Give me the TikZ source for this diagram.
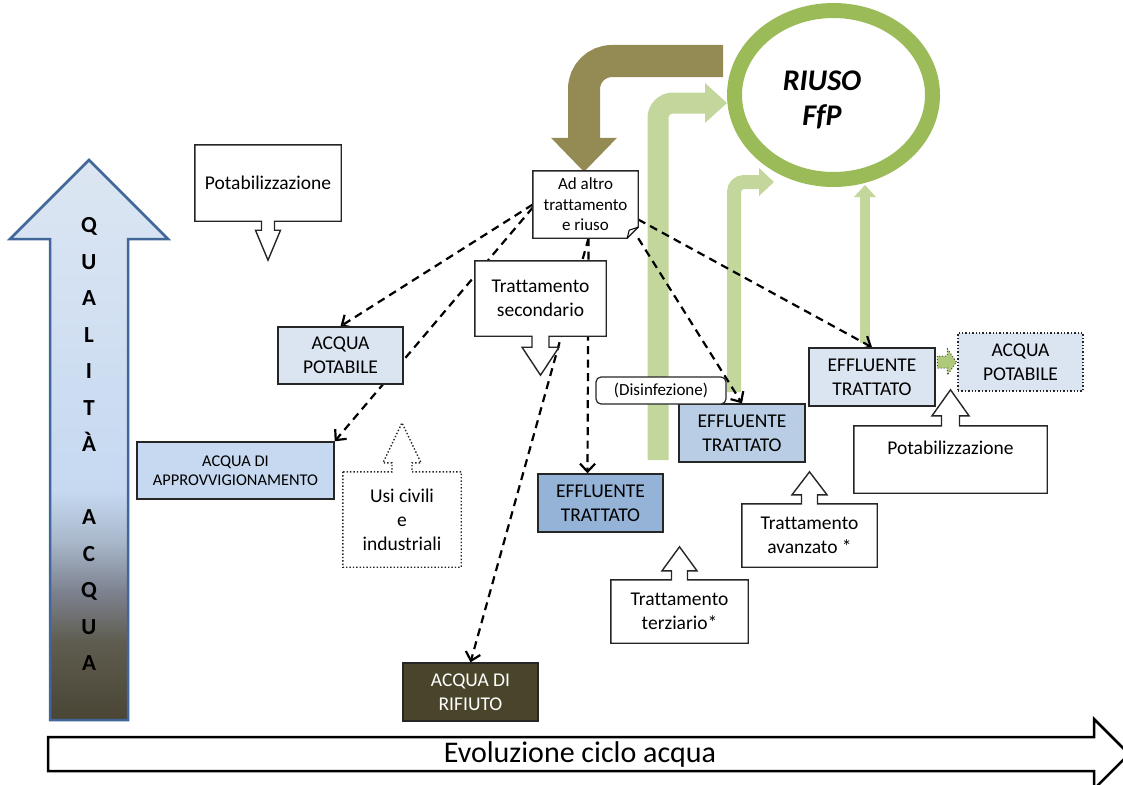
\documentclass[tikz,border=0pt]{standalone}
\usepackage{fontspec}
\setmainfont{Carlito}[Ligatures=NoCommon]
\usetikzlibrary{positioning,arrows.meta,calc,shapes.geometric,backgrounds}

\definecolor{palebox}{HTML}{DBE5F1}
\definecolor{approvbox}{HTML}{C6D9F1}
\definecolor{effbox}{HTML}{B9CDE5}
\definecolor{effdark}{HTML}{95B3D7}
\definecolor{wastebox}{HTML}{4A452A}
\definecolor{reuseflow}{HTML}{948A54}
\definecolor{ringgreen}{HTML}{9BBB59}
\definecolor{paleflow}{HTML}{C3D69B}
\definecolor{qborder}{HTML}{41679A}
\definecolor{qa}{HTML}{4A4535}
\definecolor{qb}{HTML}{5F5D50}
\definecolor{qc}{HTML}{7D8290}
\definecolor{qd}{HTML}{A9B8CB}
\definecolor{qe}{HTML}{C6D9F1}
\definecolor{qf}{HTML}{DCE6F2}
\pgfdeclareverticalshading{quality}{100bp}{color(0bp)=(qa); color(25bp)=(qa); color(32bp)=(qb); color(36.5bp)=(qc); color(41bp)=(qd); color(45.5bp)=(qe); color(75bp)=(qf); color(100bp)=(qf)}

% box with a pointer below / above it
\newcommand{\calloutdown}[6][]{%
  \draw[callout,#1] (#2.south west) -- (#2.north west) -- (#2.north east) -- (#2.south east)
    -- ($(#2.south)+(#3,0)$) -- ++(0,#5) -- ++(#4-#3,0) -- ++(-#4,#6) -- ++(-#4,-#6) -- ++(#4-#3,0) -- ++(0,-#5) -- cycle;}
\newcommand{\calloutup}[6][]{%
  \draw[callout,#1] (#2.north west) -- (#2.south west) -- (#2.south east) -- (#2.north east)
    -- ($(#2.north)+(#3,0)$) -- ++(0,-#5) -- ++(#4-#3,0) -- ++(-#4,-#6) -- ++(-#4,#6) -- ++(#4-#3,0) -- ++(0,#5) -- cycle;}

\begin{document}
\begin{tikzpicture}[x=1pt,y=-1pt,
    box/.style={draw=black!85, line width=1.4pt, inner sep=0pt, align=center, font=\fontsize{19.5}{24}\selectfont},
    bare/.style={inner sep=0pt, align=center, font=\fontsize{19.5}{24}\selectfont},
    callout/.style={draw=black!85, fill=white, line width=1.4pt},
    flow/.style={line width=2.2pt, dash pattern=on 8pt off 5.5pt, -{Straight Barb[length=8pt,width=15pt]}}]
    \useasboundingbox (0,0) rectangle (1123,784);
    \clip (0,0) rectangle (1123,784);
    %Quality axis
    \shadedraw[shading=quality, draw=qborder, line width=2.5pt] (50,720) -- (50,239) -- (10,239) -- (89,160) -- (168,239) -- (128,239) -- (128,720) -- cycle;
    \node[bare, font=\fontsize{23}{36.5}\selectfont\bfseries] (qualita) at (89,444) {Q\\U\\A\\L\\I\\T\\À\\\mbox{}\\A\\C\\Q\\U\\A};
    %Water cycle axis
    \draw[line width=2.5pt] (48,737) -- (1094,737) -- (1094,719) -- (1129,754) -- (1094,789) -- (1094,771) -- (48,771) -- cycle;
    \node[bare, font=\fontsize{30}{36}\selectfont] (evoluzione) at (580,754) {Evoluzione ciclo acqua};
    %Reuse
    \node[ellipse, draw=ringgreen, line width=15pt, minimum width=198, minimum height=169, inner sep=0pt] (riuso) at (833.5,95) {};
    \node[align=center, font=\fontsize{30}{35}\selectfont\bfseries\itshape] (riusotxt) at (822,100) {RIUSO\\FfP};
    %Treatments
    \node[bare, minimum width=146, minimum height=76] (potabA) at (268,183) {Potabilizzazione};
    \node[bare, font=\fontsize{17}{20.5}\selectfont, minimum width=105, minimum height=67] (adaltro) at (585.5,204.5) {Ad altro\\trattamento\\e riuso};
    \node[bare, minimum width=131, minimum height=75] (tratsec) at (540.5,298.5) {Trattamento\\secondario};
    \node[bare, minimum width=118, minimum height=95] (usi) at (402,519.5) {Usi civili\\e\\industriali};
    \node[bare, minimum width=193, minimum height=67] (potabB) at (950.5,459.5) {Potabilizzazione\\\mbox{}};
    \node[bare, minimum width=135, minimum height=63] (avanzato) at (809.5,535.5) {Trattamento\\avanzato *};
    \node[bare, minimum width=137, minimum height=63] (terziario) at (679.5,611.5) {Trattamento\\terziario*};
    %Waters
    \node[box, fill=palebox, minimum width=125, minimum height=57] (acquapot) at (340.5,355.5) {ACQUA\\POTABILE};
    \node[box, fill=approvbox, font=\fontsize{16.4}{19.5}\selectfont, minimum width=197, minimum height=57] (approv) at (235.5,470.5) {ACQUA DI\\APPROVVIGIONAMENTO};
    \node[box, fill=effdark, minimum width=125, minimum height=58] (effmid) at (600.5,503) {EFFLUENTE\\TRATTATO};
    \node[box, fill=effbox, minimum width=126, minimum height=58] (effmr) at (742,433) {EFFLUENTE\\TRATTATO};
    \node[box, fill=palebox, minimum width=126, minimum height=58] (effr) at (872,377) {EFFLUENTE\\TRATTATO};
    \node[box, fill=palebox, dotted, line width=1.2pt, minimum width=125, minimum height=58] (acquapotB) at (1020.5,362) {ACQUA\\POTABILE};
    \node[box, fill=wastebox, text=white, minimum width=135, minimum height=58] (rifiuto) at (470.5,692) {ACQUA DI\\RIFIUTO};
    \node[box, fill=white, rounded corners=5pt, line width=1.2pt, font=\fontsize{17}{20}\selectfont, minimum width=130, minimum height=27] (disinf) at (661,390.5) {(Disinfezione)};

    \begin{pgfonlayer}{background}
    %Flows to reuse
    \draw[paleflow, line width=21pt, rounded corners=15pt] (658,460) |- (706,103);
    \fill[paleflow] (705,83) -- (727,103) -- (705,123) -- cycle;
    \draw[paleflow, line width=14pt, rounded corners=10pt] (734,392) |- (760,182);
    \fill[paleflow] (759,168) -- (774,182) -- (759,196) -- cycle;
    \draw[paleflow, line width=10pt] ($(effr.north)+(-7,-4)$) -- (865,196);
    \fill[paleflow] (854,197) -- (865,185) -- (876,197) -- cycle;
    \draw[reuseflow, line width=32pt, rounded corners=28pt] (723,61) -| ($(adaltro.north)+(-1.5,-32)$);
    \fill[reuseflow] ($(adaltro.north)+(-34.5,-33)$) -- ($(adaltro.north)+(31.5,-33)$) -- ($(adaltro.north)+(-1.5,1)$) -- cycle;
    %Dashed links
    \draw[flow] (adaltro.west) -- (acquapot.north);
    \draw[flow] ($(adaltro.west)+(0,3)$) -- (approv.north east);
    \draw[flow] ($(adaltro.south)+(3,0)$) -- (rifiuto.north);
    \draw[flow] ($(adaltro.south)+(3,0)$) -- ($(adaltro.south |- effmid.north)+(2,0)$);
    \draw[flow] (adaltro.south east) -- (effmr.north);
    \draw[flow] ($(adaltro.east)+(0,15)$) -- (effr.north);
    %Pointer boxes
    \calloutdown{potabA}{6.5}{12.5}{9}{30}
    \calloutdown{tratsec}{8.5}{18.5}{11}{28}
    \calloutup[dotted]{usi}{10}{19}{9}{40}
    \calloutup{potabB}{9}{18.5}{10}{26}
    \calloutup{avanzato}{8}{17.5}{9}{23}
    \calloutup{terziario}{8}{17.5}{9}{24}
    %Note with folded corner
    \draw[callout] (adaltro.north west) -- (adaltro.north east) -- ($(adaltro.south east)+(0,-11)$) -- ($(adaltro.south east)+(-11,0)$) -- (adaltro.south west) -- cycle;
    \draw[line width=1pt] ($(adaltro.south east)+(-11,0)$) -- ++(2,-8) -- ++(9,-3);
    %Small arrow to drinking water
    \filldraw[fill=ringgreen!80, draw=black!70, dotted, line width=1pt] ($(acquapotB.west)+(-1,0)$) -- ++(-9,-13) -- ++(0,7) -- ++(-10,0) -- ++(0,12) -- ++(10,0) -- ++(0,7) -- cycle;
    \end{pgfonlayer}
\end{tikzpicture}
\end{document}
